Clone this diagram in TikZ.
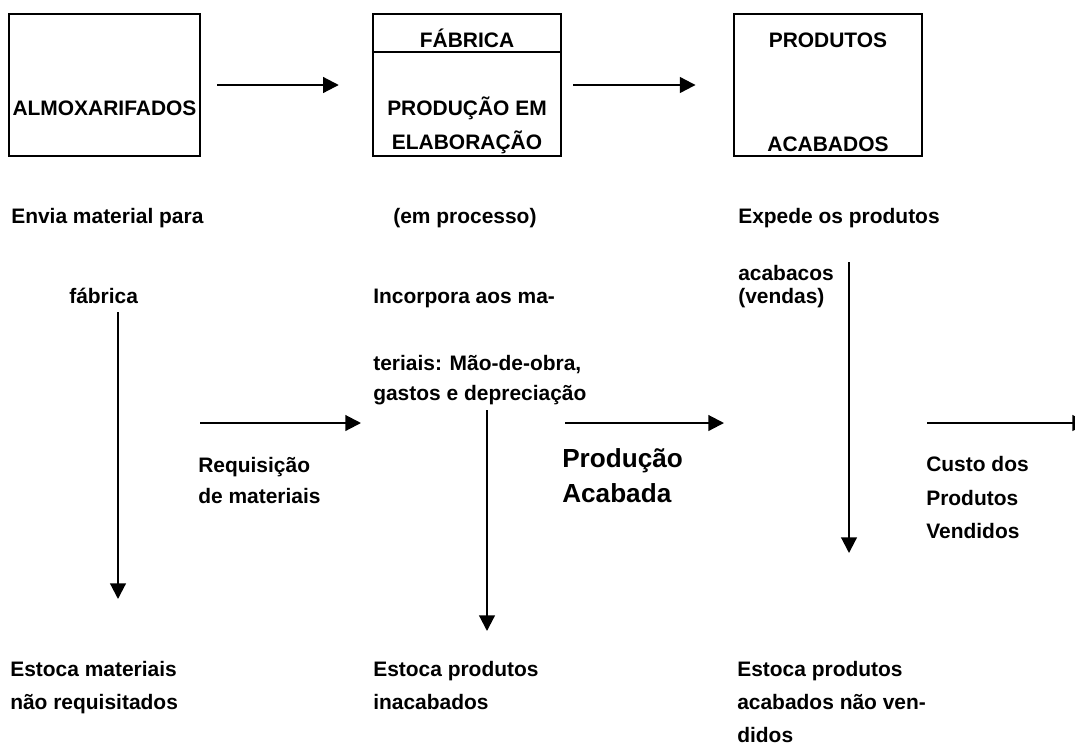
\documentclass[tikz,border=0pt]{standalone}
\usepackage{fontspec}
\setmainfont{Liberation Sans}
\usetikzlibrary{arrows.meta}

\begin{document}
\begin{tikzpicture}[x=0.025cm,y=-0.025cm,
  font=\fontsize{14.9}{18}\selectfont\bfseries,
  box/.style={draw,line width=1.7pt,minimum width=4.7cm,minimum height=3.55cm,inner sep=0pt},
  flow/.style={line width=1.5pt,-{Triangle[length=0.39cm,width=0.39cm]}},
  lbl/.style={anchor=base west,inner sep=0pt},
  mid/.style={anchor=base,inner sep=0pt}]
\useasboundingbox (0,0) rectangle (1075,745);
\clip (0,0) rectangle (1075,745);

% boxes
\node[box,minimum width=4.775cm] (almox) at (104.5,85) {};
\node[box] (fabrica) at (467,85) {};
\node[box,line width=2pt] (acab) at (828,85) {};
\draw[line width=1.7pt] (fabrica.north west) ++(0,39) -- ++(188,0);

\node[mid] (almox-t) at (104.5,115) {ALMOXARIFADOS};
\node[mid] (fabrica-t) at (467,47) {FÁBRICA};
\node[mid] (prod-t) at (467,115) {PRODUÇÃO EM};
\node[mid] (elab-t) at (467,149) {ELABORAÇÃO};
\node[mid] (produtos-t) at (828,47) {PRODUTOS};
\node[mid] (acab-t) at (828,151) {ACABADOS};

\draw[flow,shorten <=0.4cm,shorten >=0.825cm] (almox) -- (fabrica);
\draw[flow,shorten <=0.275cm,shorten >=0.925cm] (fabrica) -- (acab);

% almoxarifados
\node[lbl] (envia1) at (11,223) {Envia material para};
\node[lbl] (envia2) at (69,303) {fábrica};
\coordinate (estmat-top) at (118,312);
\coordinate (estmat-end) at (118,599);
\draw[flow] (estmat-top) -- (estmat-end);
\node[lbl] (estmat1) at (10,676) {Estoca materiais};
\node[lbl] (estmat2) at (10,709) {não requisitados};

\coordinate (req-start) at (200,423);
\coordinate (req-end) at (361,423);
\draw[flow] (req-start) -- (req-end);
\node[lbl] (req1) at (198,472) {Requisição};
\node[lbl] (req2) at (198,503) {de materiais};

% fabrica
\node[lbl] (proc) at (393,223) {(em processo)};
\node[lbl] (incorp1) at (373,303) {Incorpora aos ma-};
\node[lbl] (incorp2) at (373,370) {teriais: Mão-de-obra,};
\node[lbl] (incorp3) at (373,400) {gastos e depreciação};
\coordinate (estinac-top) at (487,410);
\coordinate (estinac-end) at (487,631);
\draw[flow] (estinac-top) -- (estinac-end);
\node[lbl] (estinac1) at (373,676) {Estoca produtos};
\node[lbl] (estinac2) at (373,709) {inacabados};

\coordinate (pa-start) at (565,423);
\coordinate (pa-end) at (724,423);
\draw[flow] (pa-start) -- (pa-end);
\node[lbl,font=\fontsize{18.6}{22}\selectfont\bfseries] (pa1) at (562,467) {Produção};
\node[lbl,font=\fontsize{18.6}{22}\selectfont\bfseries] (pa2) at (562,502) {Acabada};

% produtos acabados
\node[lbl] (exp1) at (738,223) {Expede os produtos};
\node[lbl] (exp2) at (738,280) {acabacos};
\node[lbl] (exp3) at (738,303) {(vendas)};
\coordinate (estacab-top) at (849,262);
\coordinate (estacab-end) at (849,553);
\draw[flow] (estacab-top) -- (estacab-end);
\node[lbl] (estacab1) at (737,676) {Estoca produtos};
\node[lbl] (estacab2) at (737,709) {acabados não ven-};
\node[lbl] (estacab3) at (737,742) {didos};

\coordinate (cpv-start) at (927,423);
\coordinate (cpv-end) at (1088,423);
\draw[flow] (cpv-start) -- (cpv-end);
\node[lbl] (cpv1) at (926,471) {Custo dos};
\node[lbl] (cpv2) at (926,505) {Produtos};
\node[lbl] (cpv3) at (926,538) {Vendidos};
\end{tikzpicture}
\end{document}
